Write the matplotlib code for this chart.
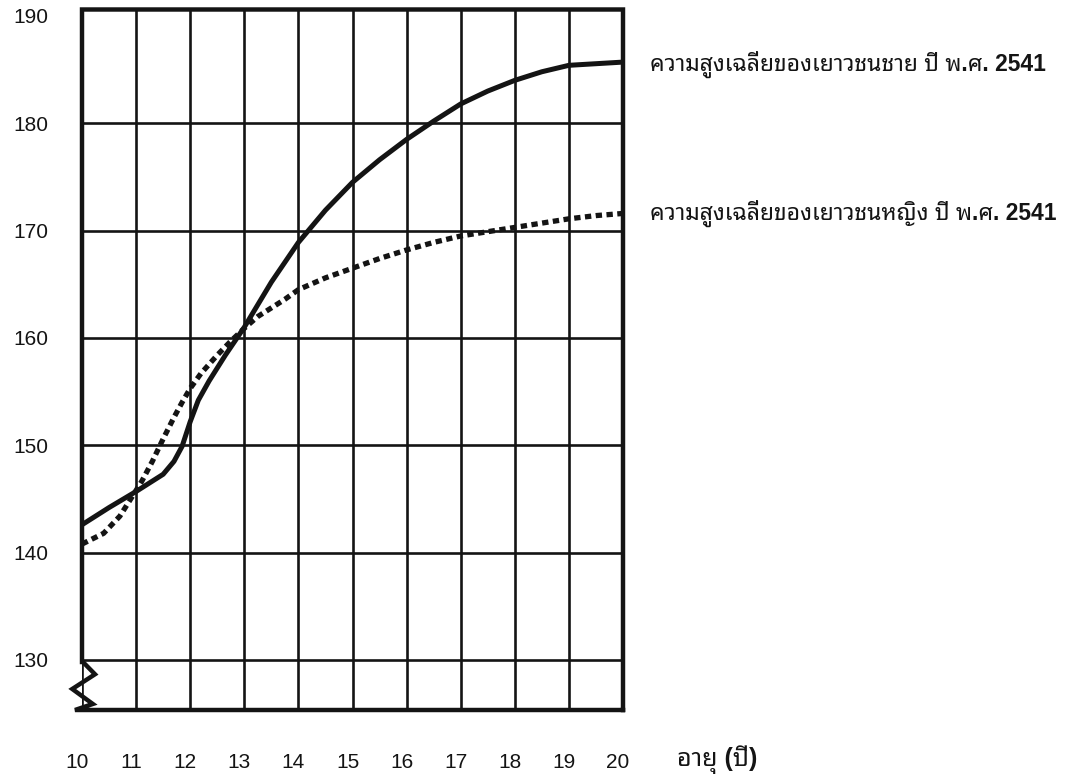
import matplotlib
matplotlib.use("Agg")
import matplotlib.pyplot as plt
from matplotlib.transforms import ScaledTranslation

# average height of youth, year 2541 (B.E.)
age_male = [10, 10.5, 11, 11.5, 11.7, 11.85, 12.0, 12.15, 12.35, 12.65, 13,
            13.5, 14, 14.5, 15, 15.5, 16, 16.5, 17, 17.5, 18, 18.5, 19, 20]
height_male = [142.6, 144.2, 145.7, 147.3, 148.5, 149.9, 152.2, 154.2, 156.0, 158.4,
               161.0, 165.2, 168.9, 171.9, 174.5, 176.6, 178.5, 180.2, 181.8, 183.0,
               184.0, 184.8, 185.4, 185.7]

age_female = [10, 10.4, 10.7, 10.9, 11.1, 11.3, 11.5, 11.7, 11.85, 12.0, 12.2, 12.5,
              12.75, 13, 13.25, 13.5, 13.75, 14, 14.5, 15, 15.5, 16, 16.5, 17, 17.5,
              18, 18.5, 19, 19.5, 20]
height_female = [140.8, 141.8, 143.4, 145.0, 146.6, 148.5, 150.6, 152.6, 154.0, 155.3,
                 156.7, 158.4, 159.7, 160.9, 162.0, 162.8, 163.6, 164.5, 165.6, 166.5,
                 167.4, 168.2, 168.9, 169.5, 169.9, 170.3, 170.7, 171.1, 171.4, 171.6]

x_ticks = list(range(10, 21))
y_ticks = list(range(130, 191, 10))
label_male = "ความสูงเฉลี่ยของเยาวชนชาย ปี พ.ศ. 2541"
label_female = "ความสูงเฉลี่ยของเยาวชนหญิง ปี พ.ศ. 2541"
x_title = "อายุ (ปี)"

thai_fonts = ["Liberation Sans", "Noto Sans Thai Looped", "Sarabun",
              "IBM Plex Sans Thai Looped", "Noto Sans Thai", "Athiti"]
ink = "#141414"

fig = plt.figure(figsize=(10.67, 7.76), dpi=100)
W, H = 1067, 776
ax = fig.add_axes([82 / W, 1 - 710 / H, 541 / W, 700.5 / H])

ax.plot(age_male, height_male, color=ink, lw=3.6, solid_capstyle="butt",
        solid_joinstyle="round", zorder=3)
ax.plot(age_female, height_female, color=ink, lw=3.8, dashes=(1.2, 0.85),
        dash_capstyle="butt", dash_joinstyle="round", zorder=3)

ax.set_xlim(10, 20)
ax.set_ylim(125.34, 190.6)
ax.set_xticks(x_ticks)
ax.set_yticks(y_ticks)
ax.grid(True, color=ink, lw=1.9)
ax.set_axisbelow(True)
ax.get_ygridlines()[-1].set_visible(False)
for s in ax.spines.values():
    s.set_visible(False)
ax.tick_params(length=0, labelsize=15, labelcolor=ink)
ax.tick_params(axis="y", pad=24)
ax.tick_params(axis="x", pad=31)
for lab in ax.get_xticklabels() + ax.get_yticklabels():
    lab.set_fontfamily("Liberation Sans")
for lab in ax.get_xticklabels():
    lab.set_transform(lab.get_transform() + ScaledTranslation(-0.05, 0, fig.dpi_scale_trans))

# frame with the axis-break zigzag at the lower left
frame_x = [1, 1, 0, 0, 0.0018, 0.024, -0.018, 0.020, -0.013, 1]
frame_y = [0, 1, 1, 0.0685, 0.0685, 0.051, 0.030, 0.0086, 0, 0]
ax.plot(frame_x, frame_y, transform=ax.transAxes, color=ink, lw=3.2,
        solid_joinstyle="miter", solid_capstyle="projecting", clip_on=False, zorder=4)

ax.text(20.5, 185.5, label_male, family=thai_fonts, fontsize=16.5, fontweight="bold",
        color=ink, ha="left", va="center", clip_on=False)
ax.text(20.5, 171.6, label_female, family=thai_fonts, fontsize=16.5, fontweight="bold",
        color=ink, ha="left", va="center", clip_on=False)
fig.text(677 / W, 1 - 760 / H, x_title, family=thai_fonts, fontsize=18,
         fontweight="bold", color=ink, ha="left", va="center")

fig.savefig("out.png", dpi=100)
